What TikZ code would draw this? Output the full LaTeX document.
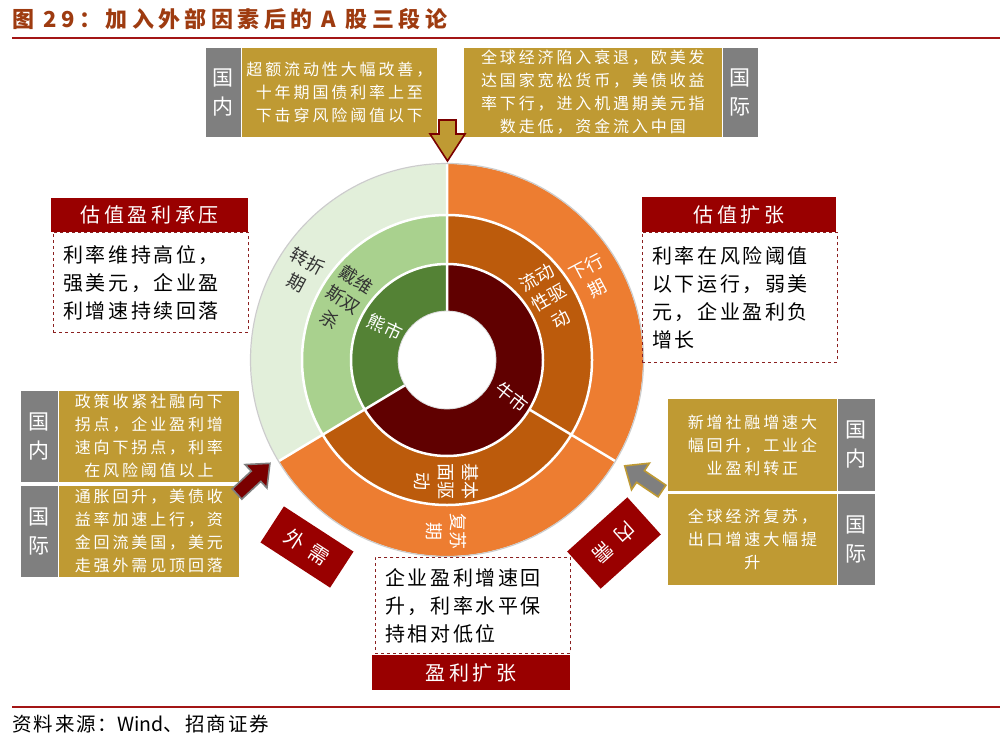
\documentclass[tikz,border=0pt]{standalone}
\usepackage{fontspec}
\setmainfont{Noto Sans CJK SC}
\newfontfamily\goldf{Noto Sans CJK SC}[LetterSpace=18]
\newfontfamily\dashf{Noto Sans CJK SC}[LetterSpace=13]
\newfontfamily\hdrf{Noto Sans CJK SC}[LetterSpace=18]
\newfontfamily\titlef{Noto Sans CJK SC}[LetterSpace=20]
\newfontfamily\srcf{Noto Sans CJK SC}[LetterSpace=10]
\usetikzlibrary{calc}
\definecolor{gold}{HTML}{BF9A33}
\definecolor{boxgrey}{HTML}{7F7F7F}
\definecolor{hdrred}{HTML}{990000}
\definecolor{dashred}{HTML}{8B2020}
\definecolor{titlecol}{HTML}{9E3B10}
\definecolor{rulered}{HTML}{A31515}
\definecolor{paleGreen}{HTML}{E2EFDA}
\definecolor{midGreen}{HTML}{A9D18E}
\definecolor{darkGreen}{HTML}{548235}
\definecolor{orangeC}{HTML}{ED7D31}
\definecolor{brownC}{HTML}{BC5B0C}
\definecolor{maroonC}{HTML}{600000}
\definecolor{darktxt}{HTML}{333333}
\newcommand\ringsect[5]{\fill[#5] (#1:#3) arc[start angle=#1,end angle=#2,radius=#3] -- (#2:#4) arc[start angle=#2,end angle=#1,radius=#4] -- cycle;}
\tikzset{
  goldbox/.style={fill=gold, draw=white, line width=0.8pt, text=white, align=center, inner sep=0pt, anchor=north west, font=\goldf\fontsize{16}{23}\selectfont},
  greybox/.style={fill=boxgrey, draw=white, line width=0.8pt, text=white, align=center, inner sep=0pt, anchor=north west, font=\fontsize{21}{29}\selectfont},
  hdrbox/.style={fill=hdrred, text=white, align=center, inner sep=0pt, anchor=north west, font=\hdrf\fontsize{20}{24}\selectfont},
  dashbox/.style={draw=dashred, dashed, line width=0.8pt, text=black, align=left, inner xsep=10pt, inner ysep=0pt, anchor=north west, font=\dashf\fontsize{20}{28}\selectfont},
  ringtxt/.style={text=white, align=center, inner sep=0pt, font=\fontsize{18}{24}\selectfont},
  needbox/.style={fill=hdrred, text=white, inner sep=0pt, font=\fontsize{20}{24}\selectfont}
}
\begin{document}
\begin{tikzpicture}[x=1pt,y=1pt]
\useasboundingbox (0,0) rectangle (1008,-741);
\fill[white] (0,0) rectangle (1008,-741);
% title and rules
\node[anchor=west, inner sep=0pt, text=titlecol, font=\titlef\fontsize{22}{26}\selectfont\bfseries] (title) at (12,-19) {图 29：加入外部因素后的 A 股三段论};
\draw[rulered, line width=2pt] (12,-38) -- (1000,-38);
\draw[rulered, line width=1.5pt] (12,-707) -- (1000,-707);
\node[anchor=west, inner sep=0pt, font=\fontsize{19.5}{22}\selectfont] (src) at (12,-724) {{\srcf 资料来源：}Wind{\srcf 、招商证券}};
% ring chart
\begin{scope}[shift={(447,-360)}]
  \fill[white] (0,0) circle[radius=197pt];
  \ringsect{90}{211}{145pt}{196pt}{paleGreen}
  \ringsect{211}{329}{145pt}{196pt}{orangeC}
  \ringsect{329}{450}{145pt}{196pt}{orangeC}
  \ringsect{90}{211}{96pt}{145pt}{midGreen}
  \ringsect{211}{329}{96pt}{145pt}{brownC}
  \ringsect{329}{450}{96pt}{145pt}{brownC}
  \ringsect{90}{211}{49pt}{96pt}{darkGreen}
  \ringsect{211}{450}{49pt}{96pt}{maroonC}
  \draw[white, line width=2.5pt] (0,0) circle[radius=96pt] (0,0) circle[radius=145pt];
  \draw[white, line width=2.5pt] (90:49pt) -- (90:196pt) (211:49pt) -- (211:196pt) (329:96pt) -- (329:196pt);
  \draw[black!20, line width=1.2pt] (0,0) circle[radius=196.5pt];
  \fill[white] (0,0) circle[radius=49pt];
  \draw[black!15, line width=0.8pt] (0,0) circle[radius=49pt];
\end{scope}
% ring labels
\node[ringtxt, text=darktxt, rotate=-28] (zhe) at (302,-272) {转折\\期};
\node[ringtxt, text=darktxt, rotate=-33] (daiwei) at (343,-300) {戴维\\斯双\\杀};
\node[ringtxt, rotate=-25] (xiong) at (385,-327) {熊市};
\node[ringtxt, rotate=-38] (niu) at (512,-397) {牛市};
\node[ringtxt, rotate=30] (liudong) at (549,-298) {流动\\性驱\\动};
\node[ringtxt, rotate=28] (xiaxing) at (592,-278) {下行\\期};
\node[ringtxt, rotate=-90] (jiben) at (446,-481) {基本\\面驱\\动};
\node[ringtxt, rotate=-90] (fusu) at (446,-531) {复苏\\期};
% top boxes
\node[greybox, minimum width=36pt, minimum height=90pt] (tlg) at (205,-47) {国\\内};
\node[goldbox, minimum width=196pt, minimum height=90pt] (tlb) at (241,-47) {超额流动性大幅改善，\\十年期国债利率上至\\下击穿风险阈值以下};
\node[goldbox, minimum width=259pt, minimum height=90pt] (trb) at (463,-47) {全球经济陷入衰退，欧美发\\达国家宽松货币，美债收益\\率下行，进入机遇期美元指\\数走低，资金流入中国};
\node[greybox, minimum width=36pt, minimum height=90pt] (trg) at (722,-47) {国\\际};
% down arrow
\filldraw[fill=gold, draw=hdrred!80!black, line width=1.6pt] (439,-120) -- (456,-120) -- (456,-134) -- (465,-134) -- (447.5,-161) -- (430,-134) -- (439,-134) -- cycle;
% left boxes
\node[greybox, minimum width=38pt, minimum height=92pt] (lg1) at (20,-390) {国\\内};
\node[goldbox, minimum width=181pt, minimum height=92pt] (lb1) at (58,-390) {政策收紧社融向下\\拐点，企业盈利增\\速向下拐点，利率\\在风险阈值以上};
\node[greybox, minimum width=38pt, minimum height=92pt] (lg2) at (20,-485) {国\\际};
\node[goldbox, minimum width=181pt, minimum height=92pt] (lb2) at (58,-485) {通胀回升，美债收\\益率加速上行，资\\金回流美国，美元\\走强外需见顶回落};
% right boxes
\node[goldbox, minimum width=170pt, minimum height=93pt] (rb1) at (667,-398) {新增社融增速大\\幅回升，工业企\\业盈利转正};
\node[greybox, minimum width=38pt, minimum height=93pt] (rg1) at (837,-398) {国\\内};
\node[goldbox, minimum width=170pt, minimum height=92pt] (rb2) at (667,-493) {全球经济复苏，\\出口增速大幅提\\升};
\node[greybox, minimum width=38pt, minimum height=92pt] (rg2) at (837,-493) {国\\际};
% side arrows
\begin{scope}[shift={(237,-494)}, rotate=43]
  \filldraw[fill=hdrred!80!black, draw=boxgrey, line width=1.6pt] (0,-7) -- (26,-7) -- (26,-16) -- (45,0) -- (26,16) -- (26,7) -- (0,7) -- cycle;
\end{scope}
\begin{scope}[shift={(662,-491)}, rotate=146]
  \filldraw[fill=boxgrey, draw=gold, line width=1.6pt] (0,-7) -- (26,-7) -- (26,-16) -- (45,0) -- (26,16) -- (26,7) -- (0,7) -- cycle;
\end{scope}
% demand labels
\node[needbox, minimum width=83pt, minimum height=43pt, rotate=-33] (waixu) at (307,-547) {外\hspace{9pt}需};
\node[needbox, minimum width=81pt, minimum height=50pt, rotate=-138] (neixu) at (614,-543) {内\hspace{9pt}需};
% header + dashed boxes
\node[hdrbox, minimum width=197pt, minimum height=34pt] (h1) at (51,-198) {估值盈利承压};
\node[dashbox, minimum width=195pt, minimum height=100pt, text width=175pt] (d1) at (53,-232) {利率维持高位，\\强美元，企业盈\\利增速持续回落};
\node[hdrbox, minimum width=194pt, minimum height=35pt] (h2) at (642,-197) {估值扩张};
\node[dashbox, minimum width=195pt, minimum height=130pt, text width=175pt] (d2) at (642,-232) {利率在风险阈值\\以下运行，弱美\\元，企业盈利负\\增长};
\node[dashbox, minimum width=195pt, minimum height=96pt, text width=175pt] (d3) at (375,-557) {企业盈利增速回\\升，利率水平保\\持相对低位};
\node[hdrbox, minimum width=198pt, minimum height=35pt] (h3) at (372,-655) {盈利扩张};
\end{tikzpicture}
\end{document}
